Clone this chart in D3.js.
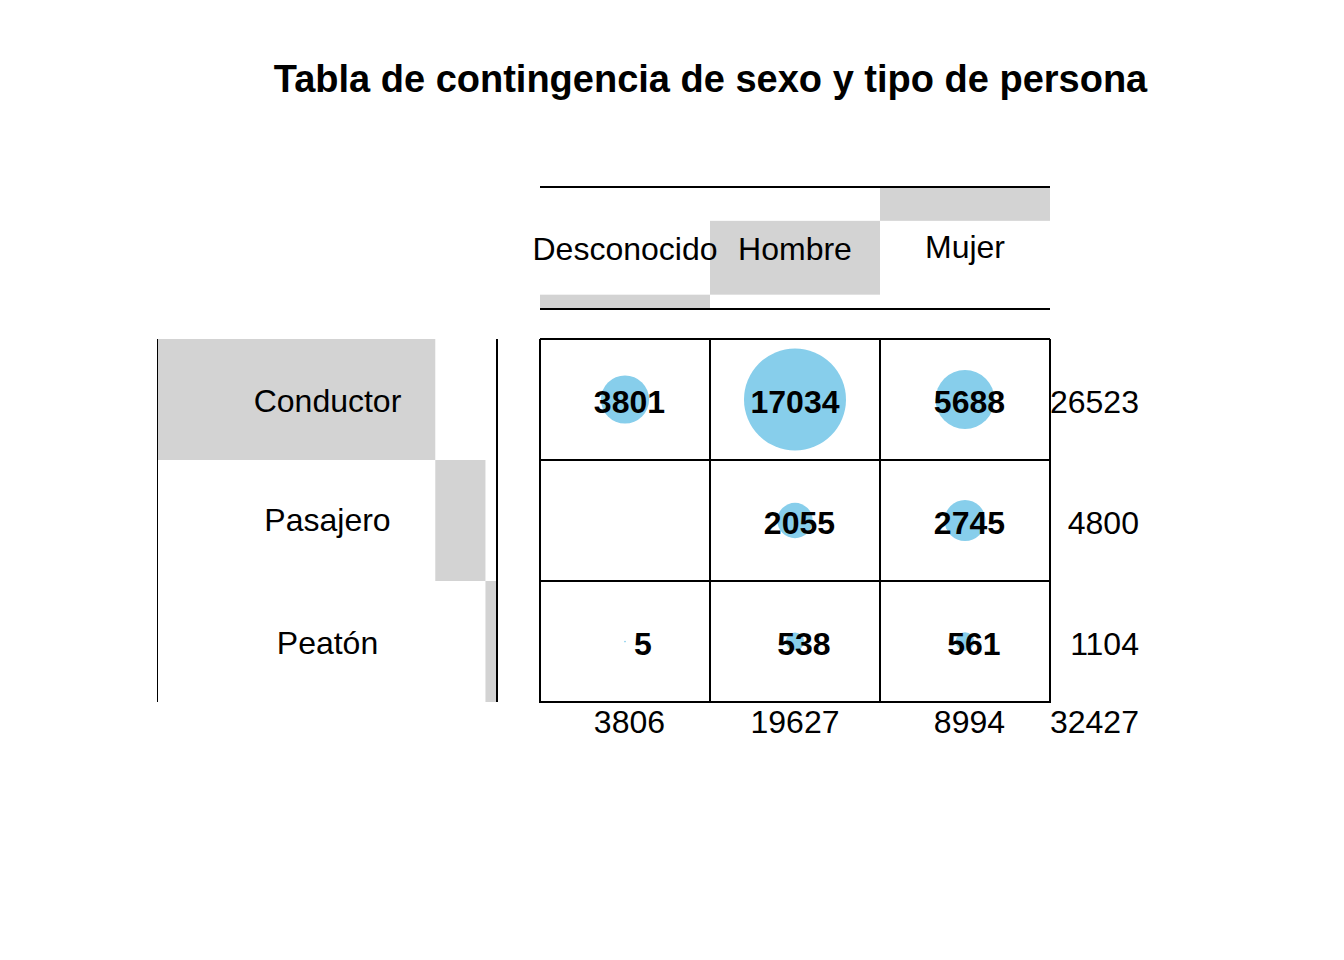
<!DOCTYPE html>
<html>
<head>
<meta charset="utf-8">
<script src="https://cdn.jsdelivr.net/npm/d3@7"></script>
<style>
  html, body { margin: 0; padding: 0; background: #fff; }
  text { font-family: "Liberation Sans", Arial, sans-serif; }
</style>
</head>
<body>
<svg id="chart" width="1344" height="960"></svg>
<script>
// ---- data ----
const title = "Tabla de contingencia de sexo y tipo de persona";
const sexes = ["Desconocido", "Hombre", "Mujer"];
const personTypes = ["Conductor", "Pasajero", "Peatón"];
const conductor = [3801, 17034, 5688];
const pasajero = [0, 2055, 2745];
const peaton = [5, 538, 561];
const rowValues = [conductor, pasajero, peaton];

// ---- derived ----
const cells = [];
personTypes.forEach((p, i) => sexes.forEach((s, j) => cells.push({ row: p, col: s, value: rowValues[i][j] })));
const rowTotals = rowValues.map(r => d3.sum(r));
const colTotals = sexes.map((s, j) => d3.sum(rowValues, r => r[j]));
const grandTotal = d3.sum(rowTotals);

const svg = d3.select("#chart");
const FS = 32;
const fmtWidth = String(d3.max(cells, d => d.value)).length;
const pad = v => String(v).padStart(fmtWidth, " ");
const descOffset = s => /[gjpqy]/.test(s) ? -2.5 : 0;

// scales
const x = d3.scaleBand().domain(sexes).range([540, 1050]);
const y = d3.scaleBand().domain(personTypes).range([339, 702]);
const r = d3.scaleSqrt().domain([0, d3.max(cells, d => d.value)]).range([0, 51]);
const hy = d3.scaleLinear().domain([0, 1]).range([309, 187]);   // column margin bars
const rx = d3.scaleLinear().domain([0, 1]).range([158, 497]);   // row margin bars

// title
svg.append("text")
  .attr("x", 710.5).attr("y", 92)
  .attr("text-anchor", "middle")
  .attr("font-weight", "bold")
  .attr("font-size", 38)
  .text(title);

// column header margin bars (stacked from bottom)
let cum = 0;
const colStack = sexes.map((s, j) => { const a = cum; cum += colTotals[j] / grandTotal; return { s, a, b: cum }; });
svg.append("g").selectAll("rect").data(colStack).join("rect")
  .attr("x", d => x(d.s)).attr("width", x.bandwidth())
  .attr("y", d => hy(d.b)).attr("height", d => hy(d.a) - hy(d.b))
  .attr("fill", "#D3D3D3");
svg.append("g").selectAll("text").data(sexes).join("text")
  .attr("x", d => x(d) + x.bandwidth() / 2)
  .attr("y", d => (hy(0) + hy(1)) / 2 + 12 + descOffset(d))
  .attr("text-anchor", "middle").attr("font-size", FS)
  .text(d => d);
[hy(1), hy(0)].forEach(yy => svg.append("line")
  .attr("x1", 540).attr("x2", 1050).attr("y1", yy).attr("y2", yy)
  .attr("stroke", "#000").attr("stroke-width", 2));

// row header margin bars (stacked from left)
cum = 0;
const rowStack = personTypes.map((p, i) => { const a = cum; cum += rowTotals[i] / grandTotal; return { p, a, b: cum }; });
svg.append("g").selectAll("rect").data(rowStack).join("rect")
  .attr("x", d => rx(d.a)).attr("width", d => rx(d.b) - rx(d.a))
  .attr("y", d => y(d.p)).attr("height", y.bandwidth())
  .attr("fill", "#D3D3D3");
svg.append("g").selectAll("text").data(personTypes).join("text")
  .attr("x", (rx(0) + rx(1)) / 2)
  .attr("y", d => y(d) + y.bandwidth() / 2 + 12.5 + descOffset(d))
  .attr("text-anchor", "middle").attr("font-size", FS)
  .text(d => d);
svg.append("line").attr("x1", rx(0) - 0.5).attr("x2", rx(0) - 0.5)
  .attr("y1", y.range()[0]).attr("y2", y.range()[1])
  .attr("stroke", "#000").attr("stroke-width", 1);
svg.append("line").attr("x1", rx(1)).attr("x2", rx(1))
  .attr("y1", y.range()[0]).attr("y2", y.range()[1])
  .attr("stroke", "#000").attr("stroke-width", 2);

// balloons
svg.append("g").selectAll("circle").data(cells.filter(d => d.value > 0)).join("circle")
  .attr("cx", d => x(d.col) + x.bandwidth() / 2)
  .attr("cy", d => y(d.row) + y.bandwidth() / 2)
  .attr("r", d => r(d.value))
  .attr("fill", "#87CEEB");

// grid
const grid = svg.append("g").attr("stroke", "#000").attr("stroke-width", 2).attr("fill", "none");
x.domain().forEach(c => grid.append("line").attr("x1", x(c)).attr("x2", x(c)).attr("y1", y.range()[0]).attr("y2", y.range()[1]));
grid.append("line").attr("x1", x.range()[1]).attr("x2", x.range()[1]).attr("y1", y.range()[0]).attr("y2", y.range()[1]);
y.domain().forEach(rw => grid.append("line").attr("x1", x.range()[0]).attr("x2", x.range()[1]).attr("y1", y(rw)).attr("y2", y(rw)));
grid.append("line").attr("x1", x.range()[0] - 1).attr("x2", x.range()[1] + 1).attr("y1", y.range()[1]).attr("y2", y.range()[1]);

// cell values
svg.append("g").selectAll("text").data(cells.filter(d => d.value > 0)).join("text")
  .attr("x", d => x(d.col) + x.bandwidth() / 2)
  .attr("y", d => y(d.row) + y.bandwidth() / 2 + 13.5)
  .attr("text-anchor", "middle").attr("font-size", FS).attr("font-weight", "bold")
  .style("white-space", "pre")
  .text(d => pad(d.value));

// row totals
const totX = x.range()[1] + fmtWidth * 0.556 * FS;
svg.append("g").selectAll("text").data(personTypes).join("text")
  .attr("x", totX)
  .attr("y", (d, i) => y(d) + y.bandwidth() / 2 + 13)
  .attr("text-anchor", "end").attr("font-size", FS)
  .text((d, i) => rowTotals[i]);

// column totals
svg.append("g").selectAll("text").data(sexes).join("text")
  .attr("x", d => x(d) + x.bandwidth() / 2)
  .attr("y", y.range()[1] + 31)
  .attr("text-anchor", "middle").attr("font-size", FS)
  .style("white-space", "pre")
  .text((d, j) => pad(colTotals[j]));
svg.append("text")
  .attr("x", totX).attr("y", y.range()[1] + 31)
  .attr("text-anchor", "end").attr("font-size", FS)
  .text(grandTotal);
</script>
</body>
</html>
